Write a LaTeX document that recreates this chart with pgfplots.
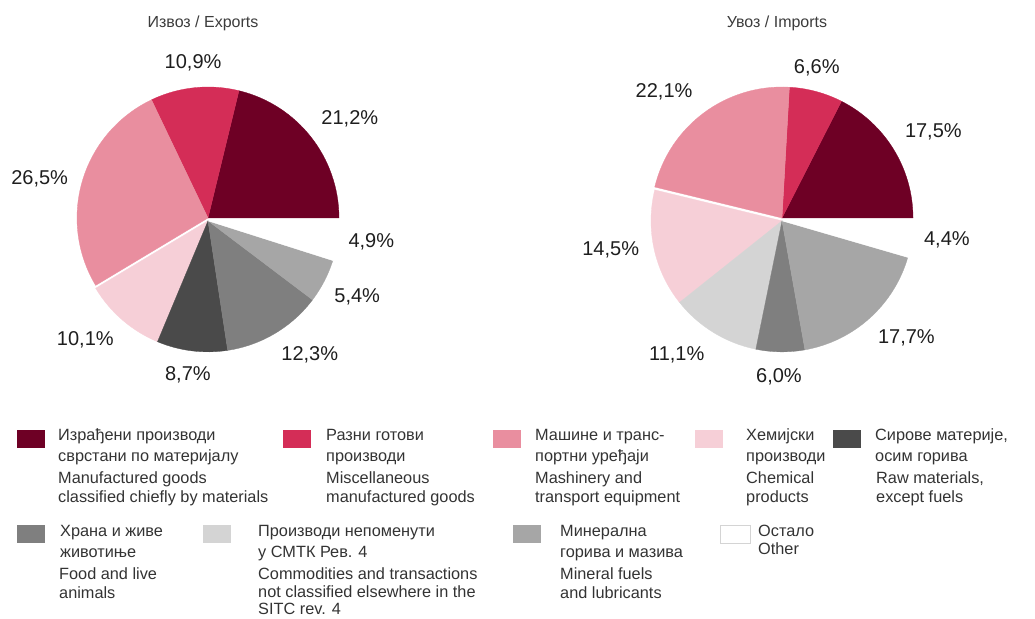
\documentclass[border=0pt]{standalone}
\usepackage{pgfplots}
\pgfplotsset{compat=1.18}
\usepackage{pgfplotstable}
\usepackage{fontspec}
\setmainfont{Liberation Sans}

\definecolor{cA}{HTML}{6E0025}
\definecolor{cB}{HTML}{D42D57}
\definecolor{cC}{HTML}{E98E9F}
\definecolor{cD}{HTML}{F6CFD7}
\definecolor{cE}{HTML}{4A4A4A}
\definecolor{cF}{HTML}{7F7F7F}
\definecolor{cG}{HTML}{D4D4D4}
\definecolor{cH}{HTML}{A6A6A6}
\definecolor{labc}{HTML}{1E1E1E}
\definecolor{legc}{HTML}{333333}
\definecolor{titc}{HTML}{3C3C3C}

\newcommand\pctfont{\fontsize{20bp}{24bp}\selectfont}
\newcommand\legfont{\fontsize{16.3bp}{19bp}\selectfont}
\newcommand\titfont{\fontsize{16bp}{19bp}\selectfont}

% Exports: share (%), colour, label angle, label radius (in pie radii)
\pgfplotstableread{
val col la lr
21.2 cA 34.9 1.32
10.9 cB 95.5 1.19
26.5 cC 166.8 1.32
10.1 cD 224.8 1.32
8.7 cE 262.7 1.21
12.3 cF 306.7 1.30
5.4 cH 332 1.29
4.9 white 351.7 1.26
}\exports
% Imports
\pgfplotstableread{
val col la lr
17.5 cA 29.7 1.33
6.6 cB 77 1.18
22.1 cC 133 1.32
14.5 cD 190.5 1.33
11.1 cG 232.5 1.32
6.0 cF 268.9 1.21
17.7 cH 316 1.32
4.4 white 352.4 1.27
}\imports

\newcommand\drawpie[1]{%
  \pgfplotstablegetrowsof{#1}%
  \pgfmathtruncatemacro\nrows{\pgfplotsretval-1}%
  \def\cum{0}%
  \pgfplotsforeachungrouped \i in {0,...,\nrows}{%
    \pgfplotstablegetelem{\i}{val}\of{#1}\let\sval\pgfplotsretval
    \pgfplotstablegetelem{\i}{col}\of{#1}\let\scol\pgfplotsretval
    \pgfplotstablegetelem{\i}{la}\of{#1}\let\sla\pgfplotsretval
    \pgfplotstablegetelem{\i}{lr}\of{#1}\let\slr\pgfplotsretval
    \pgfmathsetmacro\sa{3.6*\cum}%
    \pgfmathsetmacro\sb{3.6*(\cum+\sval)}%
    \pgfmathsetmacro\sm{(\sa+\sb)/2}%
    \pgfmathsetmacro\sdy{(\sm>180)*(-0.022)}%
    \edef\temp{%
      \noexpand\fill[\scol, draw=\scol, line width=0.3bp] (axis cs:0,\sdy) -- (axis cs:{cos(\sa)},{\sdy+sin(\sa)}) arc[start angle=\sa, end angle=\sb, radius=131bp] -- cycle;
      \noexpand\node[font=\noexpand\pctfont, text=labc] at (axis cs:{\slr*cos(\sla)},{\slr*sin(\sla)}) {\noexpand\pgfmathprintnumber[fixed,fixed zerofill,precision=1,use comma,assume math mode=true]{\sval}\noexpand\%};
    }\temp
    \pgfmathsetmacro\cum{\cum+\sval}%
  }%
}

\newcommand\lline[3]{\node[anchor=base west, inner sep=0pt, font=\legfont, text=legc] at (#1,{619-#2}) {#3};}
\newcommand\lbox[3]{\fill[#3] (#1,{619-#2}) rectangle ({#1+28},{619-#2-18});}

\begin{document}
\begin{tikzpicture}[x=1bp,y=1bp]
\useasboundingbox (0,0) rectangle (1035,619);

\begin{axis}[at={(208bp,401bp)}, anchor=center, x=131bp, y=131bp,
  xmin=-1.5, xmax=1.5, ymin=-1.5, ymax=1.5, hide axis, clip=false]
\drawpie{\exports}
\end{axis}

\begin{axis}[at={(782bp,401bp)}, anchor=center, x=131bp, y=131bp,
  xmin=-1.5, xmax=1.5, ymin=-1.5, ymax=1.5, hide axis, clip=false]
\drawpie{\imports}
\end{axis}

\node[font=\titfont, text=titc] at (203,596) {Извоз / Exports};
\node[font=\titfont, text=titc] at (777,596) {Увоз / Imports};

% Legend row 1
\lbox{17}{430}{cA}
\lline{58}{441}{Израђени производи}
\lline{58}{462}{сврстани по материјалу}
\lline{58}{484}{Manufactured goods}
\lline{58}{503}{classified chiefly by materials}

\lbox{283}{430}{cB}
\lline{326}{441}{Разни готови}
\lline{326}{462}{производи}
\lline{326}{484}{Miscellaneous}
\lline{326}{503}{manufactured goods}

\lbox{493}{430}{cC}
\lline{535}{441}{Машине и транс-}
\lline{535}{462}{портни уређаји}
\lline{535}{484}{Mashinery and}
\lline{535}{503}{transport equipment}

\lbox{695}{430}{cD}
\lline{746}{441}{Хемијски}
\lline{746}{462}{производи}
\lline{746}{484}{Chemical}
\lline{746}{503}{products}

\lbox{833}{430}{cE}
\lline{875}{441}{Сирове материје,}
\lline{875}{462}{осим горива}
\lline{876}{484}{Raw materials,}
\lline{876}{503}{except fuels}

% Legend row 2
\lbox{17}{525}{cF}
\lline{60}{537}{Храна и живе}
\lline{60}{558}{животиње}
\lline{59}{580}{Food and live}
\lline{59}{599}{animals}

\lbox{203}{525}{cG}
\lline{258}{537}{Производи непоменути}
\lline{258}{558}{у СМТК Рев. 4}
\lline{258}{580}{Commodities and transactions}
\lline{258}{598}{not classified elsewhere in the}
\lline{258}{615}{SITC rev. 4}

\lbox{513}{525}{cH}
\lline{560}{537}{Минерална}
\lline{560}{558}{горива и мазива}
\lline{560}{580}{Mineral fuels}
\lline{560}{599}{and lubricants}

\fill[white, draw=cG, line width=0.8bp] (720,{619-525}) rectangle (750,{619-543});
\lline{758}{537}{Остало}
\lline{758}{555}{Other}
\end{tikzpicture}
\end{document}
